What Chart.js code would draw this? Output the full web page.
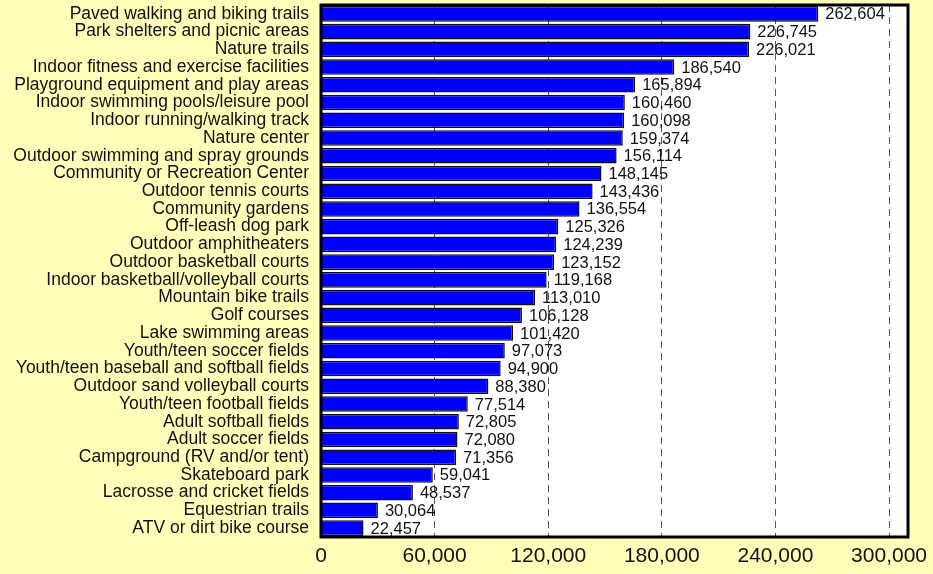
<!DOCTYPE html>
<html>
<head>
<meta charset="utf-8">
<script src="https://cdn.jsdelivr.net/npm/chart.js@4"></script>
<style>
  html, body { margin: 0; padding: 0; background: #FFFFB9; }
  #wrap { width: 933px; height: 574px; }
</style>
</head>
<body>
<div id="wrap"><canvas id="chart" width="933" height="574"></canvas></div>
<script>
// 类别与数值
const categories = [
  'Paved walking and biking trails', 'Park shelters and picnic areas', 'Nature trails',
  'Indoor fitness and exercise facilities', 'Playground equipment and play areas',
  'Indoor swimming pools/leisure pool', 'Indoor running/walking track', 'Nature center',
  'Outdoor swimming and spray grounds', 'Community or Recreation Center', 'Outdoor tennis courts',
  'Community gardens', 'Off-leash dog park', 'Outdoor amphitheaters', 'Outdoor basketball courts',
  'Indoor basketball/volleyball courts', 'Mountain bike trails', 'Golf courses',
  'Lake swimming areas', 'Youth/teen soccer fields', 'Youth/teen baseball and softball fields',
  'Outdoor sand volleyball courts', 'Youth/teen football fields', 'Adult softball fields',
  'Adult soccer fields', 'Campground (RV and/or tent)', 'Skateboard park',
  'Lacrosse and cricket fields', 'Equestrian trails', 'ATV or dirt bike course'
];
const values = [
  262604, 226745, 226021, 186540, 165894, 160460, 160098, 159374, 156114, 148145,
  143436, 136554, 125326, 124239, 123152, 119168, 113010, 106128, 101420, 97073,
  94900, 88380, 77514, 72805, 72080, 71356, 59041, 48537, 30064, 22457
];
const tickValues = [0, 60000, 120000, 180000, 240000, 300000];

const fontFamily = '"Liberation Sans", Arial, sans-serif';

// 数值标签
const valueLabels = {
  id: 'valueLabels',
  afterDatasetsDraw(chart) {
    const c = chart.ctx;
    const meta = chart.getDatasetMeta(0);
    c.save();
    c.font = '16.5px ' + fontFamily;
    c.fillStyle = '#111';
    c.textAlign = 'left';
    c.textBaseline = 'middle';
    meta.data.forEach((bar, i) => {
      c.fillText(values[i].toLocaleString('en-US'), bar.x + 7, bar.y + 1);
    });
    c.restore();
  }
};

// 绘图区边框
const plotFrame = {
  id: 'plotFrame',
  beforeDraw(chart) {
    const a = chart.chartArea;
    const c = chart.ctx;
    c.save();
    c.fillStyle = '#FFFFFF';
    c.fillRect(a.left, a.top, a.right - a.left, a.bottom - a.top);
    c.restore();
  },
  afterDraw(chart) {
    const a = chart.chartArea;
    const c = chart.ctx;
    c.save();
    c.strokeStyle = '#000';
    c.lineWidth = 3;
    c.strokeRect(a.left, a.top, a.right - a.left, a.bottom - a.top);
    c.restore();
  }
};

new Chart(document.getElementById('chart'), {
  type: 'bar',
  data: {
    labels: categories,
    datasets: [{
      data: values,
      backgroundColor: '#0000FF',
      borderColor: '#111111',
      borderWidth: 1.5,
      barPercentage: 0.88,
      categoryPercentage: 1
    }]
  },
  options: {
    indexAxis: 'y',
    responsive: false,
    animation: false,
    layout: { padding: { top: 5, right: 25, left: 0, bottom: 0 } },
    plugins: {
      legend: { display: false },
      tooltip: { enabled: false }
    },
    scales: {
      x: {
        min: 0,
        max: 310000,
        afterBuildTicks(scale) {
          scale.ticks = tickValues.map(v => ({ value: v }));
        },
        afterFit(scale) {
          scale.height = 37;
          scale.paddingLeft = 0;
          scale.paddingRight = 0;
        },
        grid: {
          color(ctx) { return ctx.tick && ctx.tick.value === 0 ? 'rgba(0,0,0,0)' : '#555'; },
          lineWidth: 1,
          drawTicks: false
        },
        border: { display: false, dash: [7, 5] },
        ticks: {
          color: '#111',
          padding: 7,
          font: { family: fontFamily, size: 21 },
          callback: v => v.toLocaleString('en-US')
        }
      },
      y: {
        afterFit(scale) {
          scale.width = 321;
          scale.paddingTop = 0;
          scale.paddingBottom = 0;
        },
        grid: { display: false, drawTicks: false },
        border: { display: false },
        ticks: {
          color: '#111',
          padding: 12,
          autoSkip: false,
          font: { family: fontFamily, size: 17.5 }
        }
      }
    }
  },
  plugins: [plotFrame, valueLabels]
});
</script>
</body>
</html>
